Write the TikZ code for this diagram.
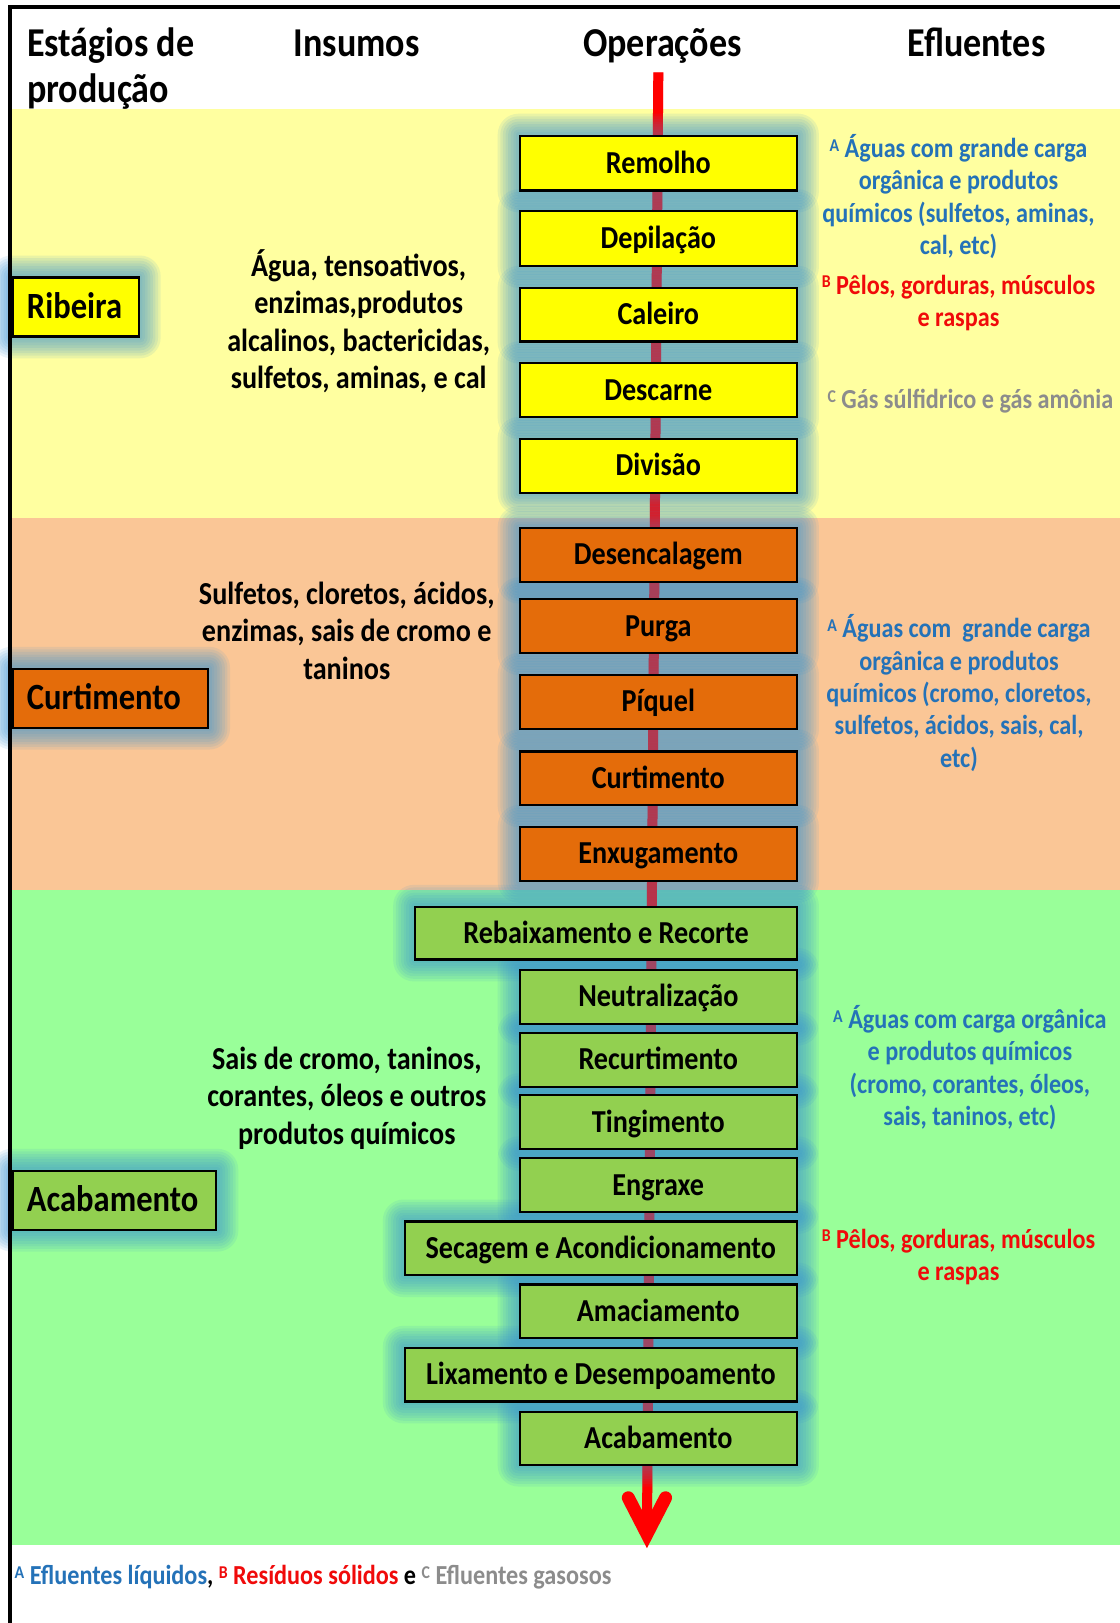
\documentclass[tikz,border=0pt]{standalone}
\usepackage{fontspec}
\setmainfont{Carlito}[FakeStretch=0.88]
\usetikzlibrary{calc}
\pgfdeclarelayer{bands}
\pgfdeclarelayer{glowlayer}
\pgfsetlayers{bands,glowlayer,main}

\definecolor{bandY}{RGB}{255,255,160}
\definecolor{bandO}{RGB}{250,198,150}
\definecolor{bandG}{RGB}{153,255,153}
\definecolor{boxY}{RGB}{255,255,0}
\definecolor{boxO}{RGB}{228,108,10}
\definecolor{boxG}{RGB}{146,208,80}
\definecolor{glowc}{RGB}{60,150,210}
\definecolor{txtblue}{RGB}{36,114,184}
\definecolor{txtred}{RGB}{240,10,10}
\definecolor{txtgrey}{RGB}{140,140,140}
\definecolor{flowred}{RGB}{255,0,0}

\newcommand\opfont{\bfseries\fontsize{32}{37}\selectfont}
\newcommand\hdrfont{\bfseries\fontsize{41}{47.6}\selectfont}
\newcommand\stagefont{\bfseries\fontsize{37}{44}\selectfont}
\newcommand\insfont{\bfseries\fontsize{32}{37.4}\selectfont}
\newcommand\effont{\bfseries\fontsize{27.5}{32.4}\selectfont}
\newcommand\supx[1]{\raisebox{6.5pt}{\fontsize{18}{18}\selectfont #1}}

\newcommand\glowit[1]{%
  \begin{pgfonlayer}{glowlayer}
    \foreach \k in {1,...,8}{%
      \fill[glowc,opacity=0.11,rounded corners=\k*2.6pt]
        ([shift={(-\k*2.6pt,-\k*2.6pt)}]#1.south west) rectangle
        ([shift={(\k*2.6pt,\k*2.6pt)}]#1.north east);
    }
  \end{pgfonlayer}}

\newcommand\opnode[7]{%
  \node[opbox, fill=#6, minimum width={(#4-#2)*1.0351pt},
        minimum height={(#5-#3)*1.0351pt}]
    (#1) at ({(#2+#4)/2},{(#3+#5)/2}) {#7};}

\newcommand\stagenode[7]{%
  \node[stagebox, fill=#6, text width={(#4-#2)*1.0351pt-29pt},
        minimum height={(#5-#3)*1.0351pt}, anchor=west]
    (#1) at (#2,{(#3+#5)/2}) {#7};}

\begin{document}
\begin{tikzpicture}[x=1.0351pt,y=-1.0351pt,
  opbox/.style={draw=black, line width=2.2pt, inner sep=0pt, font=\opfont,
                text height=24pt, text depth=4pt},
  stagebox/.style={draw=black, line width=2.2pt, inner ysep=0pt, inner xsep=14.5pt,
                font=\stagefont, text height=27pt, text depth=3.6pt, align=left},
  hdr/.style={font=\hdrfont, inner sep=0pt},
  insumo/.style={font=\insfont, align=center, inner sep=0pt},
  eflu/.style={font=\effont, align=center, inner sep=0pt},
  flowline/.style={draw=flowred, line width=10pt},
  flowhead/.style={draw=flowred, line width=13pt, line cap=round, line join=miter},
]
\useasboundingbox (0,0) rectangle (1082,1568);

\begin{pgfonlayer}{bands}
  \fill[white] (0,0) rectangle (1082,1568);
  \fill[bandY] (11,105) rectangle (1082,500);
  \fill[bandO] (11,500) rectangle (1082,860);
  \fill[bandG] (11,860) rectangle (1082,1493);
\end{pgfonlayer}

% headers
\node[hdr, anchor=base west] (hstage) at (26,55) {Estágios de};
\node[hdr, anchor=base west] (hstageb) at (26,99) {produção};
\node[hdr, anchor=base] (hins) at (344.5,55) {Insumos};
\node[hdr, anchor=base] (hops) at (640,55) {Operações};
\node[hdr, anchor=base] (hefl) at (943.5,55) {Efluentes};

% flow line
\coordinate (flowtop) at (636,70);
\coordinate (flowend) at (625,1482);
\coordinate (arml) at (607,1447);
\coordinate (armr) at (643,1447);
\begin{pgfonlayer}{bands}
  \draw[flowline] (flowtop) -- (flowend);
  \draw[flowhead] (arml) -- (flowend) -- (armr);
\end{pgfonlayer}

% operations: Ribeira
\opnode{remolho}{502}{131}{770}{184}{boxY}{Remolho}
\opnode{depil}{502}{204}{770}{257}{boxY}{Depilação}
\opnode{caleiro}{502}{278}{770}{330}{boxY}{Caleiro}
\opnode{descarne}{502}{351}{770}{403}{boxY}{Descarne}
\opnode{divisao}{502}{424}{770}{476}{boxY}{Divisão}
% Curtimento
\opnode{desenc}{502}{510}{770}{562}{boxO}{Desencalagem}
\opnode{purga}{502}{579}{770}{631}{boxO}{Purga}
\opnode{piquel}{502}{652}{770}{704}{boxO}{Píquel}
\opnode{curt}{502}{726}{770}{778}{boxO}{Curtimento}
\opnode{enxug}{502}{799}{770}{851}{boxO}{Enxugamento}
% Acabamento
\opnode{rebaix}{401}{876}{770}{927}{boxG}{Rebaixamento e Recorte}
\opnode{neutr}{502}{937}{770}{989}{boxG}{Neutralização}
\opnode{recurt}{502}{998}{770}{1050}{boxG}{Recurtimento}
\opnode{tingi}{502}{1058}{770}{1110}{boxG}{Tingimento}
\opnode{engr}{502}{1119}{770}{1171}{boxG}{Engraxe}
\opnode{secag}{391}{1180}{770}{1232}{boxG}{Secagem e Acondicionamento}
\opnode{amac}{502}{1241}{770}{1293}{boxG}{Amaciamento}
\opnode{lixam}{391}{1302}{770}{1354}{boxG}{Lixamento e Desempoamento}
\opnode{acab}{502}{1364}{770}{1415}{boxG}{Acabamento}

% stages
\stagenode{sribeira}{11}{268}{133}{325}{boxY}{Ribeira}
\stagenode{scurt}{11}{646}{200}{703}{boxO}{Curtimento}
\stagenode{sacab}{11}{1131}{208}{1188}{boxG}{Acabamento}

\foreach \n in {remolho,depil,caleiro,descarne,divisao,desenc,purga,piquel,curt,enxug,
  rebaix,neutr,recurt,tingi,engr,secag,amac,lixam,acab,sribeira,scurt,sacab}{\glowit{\n}}

\begin{pgfonlayer}{glowlayer}
  \draw[flowline, draw opacity=0.4] (flowtop) -- (flowend);
\end{pgfonlayer}

% insumos
\node[insumo] (ins1) at (346.5,310.5) {Água, tensoativos,\\enzimas,produtos\\alcalinos, bactericidas,\\sulfetos, aminas, e cal};
\node[insumo] (ins2) at (335,609.5) {Sulfetos, cloretos, ácidos,\\enzimas, sais de cromo e\\taninos};
\node[insumo] (ins3) at (335,1061) {Sais de cromo, taninos,\\corantes, óleos e outros\\produtos químicos};

% efluentes
\node[eflu, text=txtblue] (efa1) at (926,190) {\supx{A} Águas com grande carga\\orgânica e produtos\\químicos (sulfetos, aminas,\\cal, etc)};
\node[eflu, text=txtred] (efb1) at (926,292.5) {\supx{B} Pêlos, gorduras, músculos\\e raspas};
\node[eflu, text=txtgrey] (efc1) at (937.5,388) {\supx{C} Gás súlfidrico e gás amônia};
\node[eflu, text=txtblue] (efa2) at (926.5,669.5) {\supx{A} Águas com\ \ grande carga\\orgânica e produtos\\químicos (cromo, cloretos,\\sulfetos, ácidos, sais, cal,\\etc)};
\node[eflu, text=txtblue] (efa3) at (937,1031.5) {\supx{A} Águas com carga orgânica\\e produtos químicos\\(cromo, corantes, óleos,\\sais, taninos, etc)};
\node[eflu, text=txtred] (efb3) at (926,1214.5) {\supx{B} Pêlos, gorduras, músculos\\e raspas};

% footer
\node[font=\effont, anchor=base west, inner sep=0pt] (foot) at (14,1531)
  {\textcolor{txtblue}{\supx{A} Efluentes líquidos}, \textcolor{txtred}{\supx{B} Resíduos sólidos} e \textcolor{txtgrey}{\supx{C} Efluentes gasosos}};

% frame
\draw[line width=4pt, line join=miter] (9.2,1568) -- (9.2,7.2) -- (1082,7.2);
\end{tikzpicture}
\end{document}
